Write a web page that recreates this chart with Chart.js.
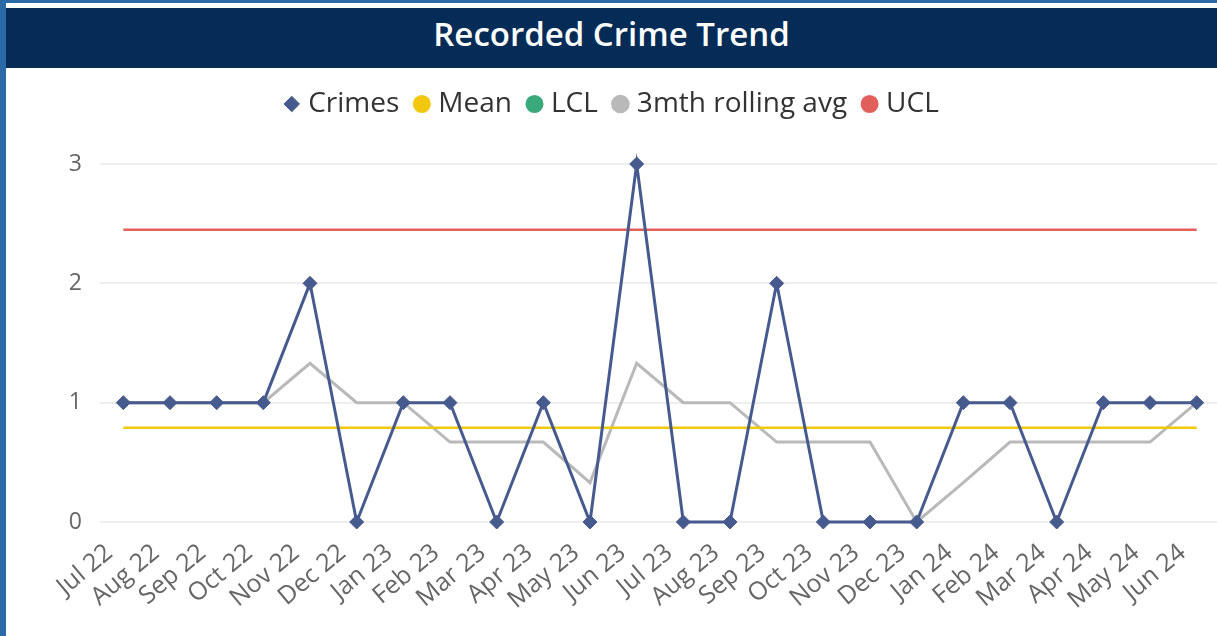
<!DOCTYPE html>
<html>
<head>
<meta charset="utf-8">
<script src="https://cdn.jsdelivr.net/npm/chart.js@4"></script>
<style>
  body { margin: 0; width: 1217px; height: 636px; overflow: hidden; background: #fff; position: relative; font-family: "Open Sans", sans-serif; }
  .leftBar { position: absolute; left: 0; top: 0; width: 6px; height: 636px; background: #2b6aa7; }
  .topBar { position: absolute; left: 0; top: 0; width: 1217px; height: 3px; background: #2b6aa7; }
  .titleBar { position: absolute; left: 6px; top: 8px; width: 1211px; height: 60px; background: #042c56;
              color: #fff; font-size: 33px; font-weight: 600; text-align: center; line-height: 52px; }
  .chartBox { position: absolute; left: 6px; top: 68px; width: 1222px; height: 568px; }
</style>
</head>
<body>
<div class="leftBar"></div>
<div class="topBar"></div>
<div class="titleBar">Recorded Crime Trend</div>
<div class="chartBox"><canvas id="crimeChart"></canvas></div>
<script>
// Datos del gráfico
const months = ['Jul 22', 'Aug 22', 'Sep 22', 'Oct 22', 'Nov 22', 'Dec 22', 'Jan 23', 'Feb 23', 'Mar 23', 'Apr 23', 'May 23', 'Jun 23',
                'Jul 23', 'Aug 23', 'Sep 23', 'Oct 23', 'Nov 23', 'Dec 23', 'Jan 24', 'Feb 24', 'Mar 24', 'Apr 24', 'May 24', 'Jun 24'];
const crimes = [1, 1, 1, 1, 2, 0, 1, 1, 0, 1, 0, 3, 0, 0, 2, 0, 0, 0, 1, 1, 0, 1, 1, 1];
const rollingAvg = [1, 1, 1, 1, 1.33, 1, 1, 0.67, 0.67, 0.67, 0.33, 1.33, 1, 1, 0.67, 0.67, 0.67, 0, 0.33, 0.67, 0.67, 0.67, 0.67, 1];
const meanValue = 0.79;
const uclValue = 2.45;
const lclValue = null;
const yTicks = [0, 1, 2, 3];

const colors = {
    crimes: '#475a8e',
    mean: '#f2c80f',
    lcl: '#3aa97b',
    rolling: '#b9b9b9',
    ucl: '#e2605c'
};

// Altura fija de la leyenda para bajar el área del gráfico
const legendSpacer = {
    id: 'legendSpacer',
    beforeInit(chart) {
        const originalFit = chart.legend.fit;
        chart.legend.fit = function() {
            originalFit.bind(chart.legend)();
            this.height = 94;
        };
    }
};

const ctx = document.getElementById('crimeChart').getContext('2d');
const crimeChart = new Chart(ctx, {
    type: 'line',
    data: {
        labels: months,
        datasets: [{
            label: 'Crimes',
            data: crimes,
            borderColor: colors.crimes,
            backgroundColor: colors.crimes,
            borderWidth: 3,
            pointStyle: 'rectRot',
            pointRadius: 7,
            pointBorderWidth: 1,
            tension: 0,
            order: 0,
            clip: false
        }, {
            label: 'Mean',
            data: months.map(() => meanValue),
            borderColor: colors.mean,
            backgroundColor: colors.mean,
            borderWidth: 2.5,
            pointStyle: 'circle',
            pointRadius: 0,
            order: 1
        }, {
            label: 'LCL',
            data: months.map(() => lclValue),
            borderColor: colors.lcl,
            backgroundColor: colors.lcl,
            borderWidth: 2.5,
            pointStyle: 'circle',
            pointRadius: 0,
            order: 2
        }, {
            label: '3mth rolling avg',
            data: rollingAvg,
            borderColor: colors.rolling,
            backgroundColor: colors.rolling,
            borderWidth: 3,
            pointStyle: 'circle',
            pointRadius: 0,
            order: 3
        }, {
            label: 'UCL',
            data: months.map(() => uclValue),
            borderColor: colors.ucl,
            backgroundColor: colors.ucl,
            borderWidth: 2.5,
            pointStyle: 'circle',
            pointRadius: 0,
            order: 4
        }]
    },
    options: {
        responsive: true,
        maintainAspectRatio: false,
        animation: false,
        layout: {
            padding: { left: 0, right: 6, top: 2, bottom: 0 }
        },
        plugins: {
            legend: {
                position: 'top',
                labels: {
                    usePointStyle: true,
                    boxWidth: 5,
                    boxHeight: 11,
                    padding: 20,
                    color: '#333',
                    font: { family: 'Open Sans', size: 28 }
                }
            },
            tooltip: { enabled: false }
        },
        scales: {
            y: {
                min: 0,
                max: 3,
                afterBuildTicks: axis => { axis.ticks = yTicks.map(v => ({ value: v })); },
                afterFit: axis => { axis.width = 94; },
                border: { display: false },
                grid: { color: '#eeeeee', lineWidth: 2, drawTicks: false },
                ticks: {
                    padding: 18,
                    color: '#666',
                    font: { family: 'Open Sans', size: 23 }
                }
            },
            x: {
                offset: true,
                afterFit: axis => { axis.height = 114; axis.paddingLeft = 0; axis.paddingRight = 0; },
                border: { display: false },
                grid: { display: false },
                ticks: {
                    autoSkip: false,
                    minRotation: 40,
                    maxRotation: 40,
                    padding: 8,
                    labelOffset: -14,
                    color: '#666',
                    font: { family: 'Open Sans', size: 25 }
                }
            }
        }
    },
    plugins: [legendSpacer]
});
</script>
</body>
</html>
